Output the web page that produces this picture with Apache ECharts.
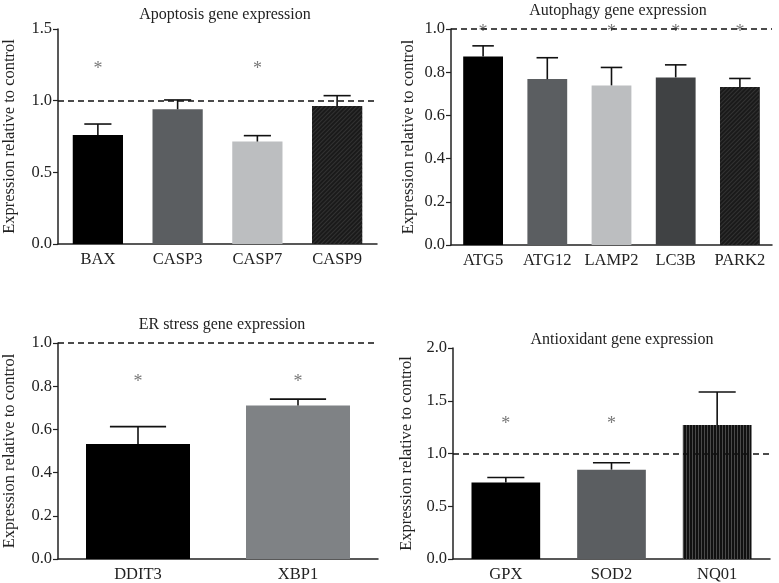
<!DOCTYPE html>
<html><head><meta charset="utf-8">
<script src="https://cdn.jsdelivr.net/npm/echarts@6/dist/echarts.min.js"></script>
<style>html,body{margin:0;padding:0;background:#fff}#c{width:779px;height:583px}</style>
</head><body><div id="c"></div>
<script>
// Panel 1: Apoptosis
const apopCats = ['BAX','CASP3','CASP7','CASP9'];
const apopVals = [0.76, 0.94, 0.715, 0.963];
const apopErr  = [0.837, 1.005, 0.756, 1.035];
const apopSig  = [1.24, null, 1.24, null];
const apopTicks = [0, 0.5, 1.0, 1.5];
// Panel 2: Autophagy
const autoCats = ['ATG5','ATG12','LAMP2','LC3B','PARK2'];
const autoVals = [0.873, 0.768, 0.739, 0.776, 0.731];
const autoErr  = [0.922, 0.867, 0.822, 0.834, 0.771];
const autoSig  = [1.0, null, 1.0, 1.0, 1.0];
const autoTicks = [0, 0.2, 0.4, 0.6, 0.8, 1.0];
// Panel 3: ER stress
const erCats = ['DDIT3','XBP1'];
const erVals = [0.532, 0.711];
const erErr  = [0.613, 0.740];
const erSig  = [0.83, 0.83];
const erTicks = [0, 0.2, 0.4, 0.6, 0.8, 1.0];
// Panel 4: Antioxidant
const antiCats = ['GPX','SOD2','NQ01'];
const antiVals = [0.726, 0.847, 1.271];
const antiErr  = [0.773, 0.912, 1.583];
const antiSig  = [1.31, 1.31, null];
const antiTicks = [0, 0.5, 1.0, 1.5, 2.0];

const FONT = '"Liberation Serif", "Times New Roman", serif';
const hatch = {color:'#1a1a1a', decal:{symbol:'rect', symbolSize:1, color:'rgba(70,70,70,0.55)', dashArrayX:[1,0], dashArrayY:[1,2], rotation:-Math.PI/4}};
const vstripe = {color:'#111111', decal:{symbol:'rect', symbolSize:1, color:'rgba(105,105,105,0.65)', dashArrayX:[1,0], dashArrayY:[1,2], rotation:Math.PI/2}};

const panels = [
  {title:'Apoptosis gene expression', cats:apopCats, vals:apopVals, err:apopErr, sig:apopSig, ticks:apopTicks,
   styles:[{color:'#000'},{color:'#5b5e61'},{color:'#bcbec0'},hatch], bw:0.63,
   grid:{left:57, right:402, top:29, bottom:339}, nameGap:40, titlePos:{x:220,y:2}},
  {title:'Autophagy gene expression', cats:autoCats, vals:autoVals, err:autoErr, sig:autoSig, ticks:autoTicks,
   styles:[{color:'#000'},{color:'#5b5e61'},{color:'#bcbec0'},{color:'#404244'},hatch], bw:0.62,
   grid:{left:451, right:7, top:29, bottom:338}, nameGap:34, titlePos:{x:613,y:-2}},
  {title:'ER stress gene expression', cats:erCats, vals:erVals, err:erErr, sig:erSig, ticks:erTicks,
   styles:[{color:'#000'},{color:'#7f8285'}], bw:0.65,
   grid:{left:55, right:401, top:343, bottom:24}, nameGap:40, titlePos:{x:217,y:312}},
  {title:'Antioxidant gene expression', cats:antiCats, vals:antiVals, err:antiErr, sig:antiSig, ticks:antiTicks,
   styles:[{color:'#000'},{color:'#5b5e61'},vstripe], bw:0.65,
   grid:{left:453, right:9, top:348, bottom:19}, nameGap:38, titlePos:{x:617,y:327}}
];

const option = {animation:false, backgroundColor:'#fff', title:[], grid:[], xAxis:[], yAxis:[], series:[]};
panels.forEach((p, i) => {
  const t = p.ticks;
  option.title.push({text:p.title, left:p.titlePos.x, top:p.titlePos.y, textAlign:'center',
    textStyle:{fontFamily:FONT, fontSize:16, fontWeight:'normal', color:'#222'}});
  option.grid.push(Object.assign({containLabel:false}, p.grid));
  option.xAxis.push({type:'category', gridIndex:i, data:p.cats,
    axisLine:{lineStyle:{color:'#222', width:1.5}},
    axisTick:{alignWithLabel:true, length:4, lineStyle:{color:'#222', width:1.2}},
    axisLabel:{interval:0, fontFamily:FONT, fontSize:16.5, color:'#222', margin:7}});
  option.yAxis.push({type:'value', gridIndex:i, min:t[0], max:t[t.length-1], interval:t[1]-t[0],
    name:'Expression relative to control', nameLocation:'middle', nameGap:p.nameGap,
    nameTextStyle:{fontFamily:FONT, fontSize:16.5, color:'#222'},
    axisLine:{show:true, lineStyle:{color:'#222', width:1.5}},
    axisTick:{show:true, length:5, lineStyle:{color:'#222', width:1.2}},
    splitLine:{show:false},
    axisLabel:{fontFamily:FONT, fontSize:16.5, color:'#222', margin:6, formatter:v => v.toFixed(1)}});
  option.series.push({type:'bar', xAxisIndex:i, yAxisIndex:i, barWidth:(p.bw*100)+'%',
    data:p.vals.map((v, k) => ({value:v, itemStyle:p.styles[k]})),
    markLine:{silent:true, symbol:'none', label:{show:false},
      lineStyle:{type:[6,4], color:'#111', width:1.6}, data:[{yAxis:1}]}, z:2});
  option.series.push({type:'custom', xAxisIndex:i, yAxisIndex:i, z:3,
    data:p.vals.map((v, k) => [k, v, p.err[k]]),
    renderItem:(params, api) => {
      const x = api.value(0);
      const lo = api.coord([x, api.value(1)]);
      const hi = api.coord([x, api.value(2)]);
      const half = api.size([1, 0])[0] * p.bw * 0.27;
      const st = {stroke:'#111', lineWidth:1.6};
      return {type:'group', children:[
        {type:'line', shape:{x1:lo[0], y1:lo[1], x2:hi[0], y2:hi[1]}, style:st},
        {type:'line', shape:{x1:hi[0]-half, y1:hi[1], x2:hi[0]+half, y2:hi[1]}, style:st}
      ]};
    }});
  option.series.push({type:'scatter', xAxisIndex:i, yAxisIndex:i, symbolSize:1, z:4,
    itemStyle:{color:'rgba(0,0,0,0)'},
    data:p.sig.map((v, k) => v == null ? null : [k, v]).filter(d => d),
    label:{show:true, position:'inside', formatter:'*', fontFamily:FONT, fontSize:18, color:'#555', offset:[0,3]}});
});
echarts.init(document.getElementById('c'), null, {renderer:'canvas'}).setOption(option);
</script></body></html>
